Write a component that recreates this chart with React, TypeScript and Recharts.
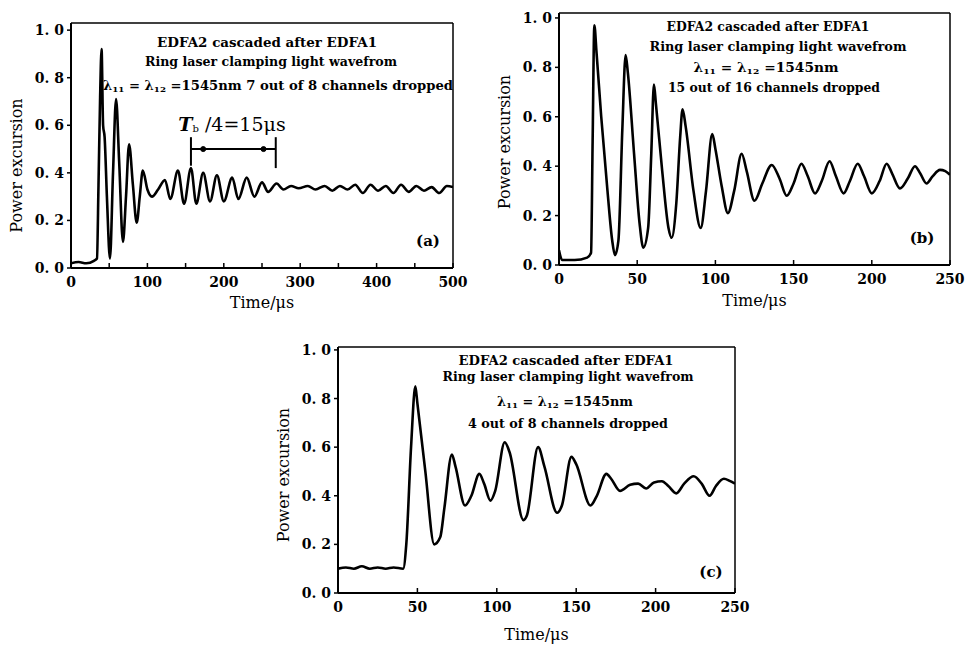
import { Line, LineChart, ReferenceDot, ReferenceLine, XAxis, YAxis } from "recharts";

// (a) 7 out of 8 channels dropped, 0..500 us
const timeA = [
  0, 10, 20, 30, 34, 36, 38, 40, 42, 44, 47, 51, 55, 59, 63, 68, 72, 76, 81, 86, 90, 94, 100, 106, 114, 123,
  130, 140, 148, 157, 164, 173, 182, 191, 200, 211, 219, 230, 240, 250, 258, 269, 278, 288, 298, 310, 320, 332,
  342, 352, 362, 372, 382, 392, 402, 412, 422, 432, 442, 452, 462, 472, 482, 492, 500,
];
const powerA = [
  0.02, 0.025, 0.02, 0.03, 0.04, 0.35, 0.7, 0.92, 0.6, 0.55, 0.3, 0.04, 0.4, 0.71, 0.45, 0.11, 0.3, 0.52, 0.35,
  0.19, 0.3, 0.41, 0.33, 0.3, 0.33, 0.37, 0.29, 0.41, 0.27, 0.42, 0.27, 0.4, 0.28, 0.39, 0.28, 0.38, 0.29, 0.38,
  0.3, 0.36, 0.32, 0.355, 0.33, 0.345, 0.335, 0.345, 0.33, 0.345, 0.325, 0.345, 0.33, 0.35, 0.315, 0.35, 0.325,
  0.345, 0.315, 0.35, 0.32, 0.345, 0.325, 0.34, 0.315, 0.345, 0.34,
];

// (b) 15 out of 16 channels dropped, 0..250 us
const timeB = [
  0, 2, 10, 18, 20.5, 21.5, 22.6, 24, 27, 31, 34, 35.8, 38, 40.5, 42.6, 44, 48, 51.5, 53.9, 57, 59, 60.7, 62, 66,
  70, 72, 75, 77.5, 79, 81, 86, 90.6, 94, 98, 100, 104, 108, 112, 116.8, 120, 125, 130, 136, 141, 145.6, 150, 155,
  159, 163.7, 168, 173, 177, 182, 186, 191, 195, 200, 205, 209.5, 213, 218, 223, 227.6, 231, 235, 239, 243.6, 247,
  250,
];
const powerB = [
  0.06, 0.02, 0.02, 0.03, 0.05, 0.5, 0.97, 0.86, 0.6, 0.3, 0.1, 0.04, 0.1, 0.55, 0.85, 0.78, 0.45, 0.17, 0.07,
  0.15, 0.45, 0.73, 0.65, 0.38, 0.15, 0.11, 0.25, 0.52, 0.63, 0.56, 0.3, 0.15, 0.3, 0.53, 0.47, 0.32, 0.21, 0.3,
  0.45, 0.38, 0.26, 0.33, 0.405, 0.35, 0.28, 0.33, 0.41, 0.36, 0.29, 0.34, 0.42, 0.36, 0.29, 0.34, 0.41, 0.36, 0.29,
  0.34, 0.41, 0.37, 0.31, 0.35, 0.4, 0.37, 0.33, 0.36, 0.385, 0.38, 0.365,
];

// (c) 4 out of 8 channels dropped, 0..250 us
const timeC = [
  0, 5, 10, 15, 20, 25, 30, 35, 41, 43, 46, 48.7, 50, 55, 60.6, 64.4, 67, 71.7, 74, 80, 84, 89, 92, 96, 99, 105,
  108, 116.8, 119, 126, 130, 138, 141, 147, 150, 159, 163, 169, 172, 177.6, 184, 189, 194, 199, 204, 208, 213, 218,
  224, 229, 234, 238, 243, 247, 250,
];
const powerC = [
  0.1, 0.105, 0.1, 0.11, 0.1, 0.105, 0.1, 0.105, 0.1, 0.2, 0.6, 0.85, 0.78, 0.5, 0.2, 0.23, 0.35, 0.57, 0.52, 0.36,
  0.4, 0.49, 0.45, 0.38, 0.42, 0.62, 0.58, 0.3, 0.32, 0.6, 0.52, 0.33, 0.36, 0.56, 0.53, 0.36, 0.4, 0.49, 0.47,
  0.42, 0.445, 0.45, 0.43, 0.455, 0.46, 0.44, 0.41, 0.45, 0.48, 0.45, 0.4, 0.44, 0.47, 0.46, 0.45,
];

const yTicks = [0, 0.2, 0.4, 0.6, 0.8, 1.0];
const xTicksA = [0, 50, 100, 150, 200, 250, 300, 350, 400, 450, 500];
const xTicksBC = [0, 50, 100, 150, 200, 250];

const SERIF = "'DejaVu Serif', 'Liberation Serif', serif";

const toRows = (t: number[], p: number[]) => t.map((v, i) => ({ t: v, p: p[i] }));

const fmtY = (v: number) => v.toFixed(1).replace(".", ". ");

function XTick(props: any) {
  const { x, y, payload, step } = props;
  const v = payload.value as number;
  return (
    <g>
      <line x1={x} x2={x} y1={y} y2={y - 5} stroke="#000" strokeWidth={1.5} />
      {v % step === 0 && (
        <text x={x} y={y + 14} textAnchor="middle" dominantBaseline="central" fontFamily={SERIF} fontWeight="bold" fontSize={14} fill="#000">
          {v}
        </text>
      )}
    </g>
  );
}

type PanelProps = {
  left: number;
  top: number;
  width: number;
  height: number;
  margin: { top: number; right: number; bottom: number; left: number };
  xMax: number;
  yMax: number;
  xTicks: number[];
  step: number;
  rows: { t: number; p: number }[];
  xTitleGap: number;
  yTitleShift: number;
  children?: any;
};

function Panel(props: PanelProps) {
  const { left, top, width, height, margin, xMax, yMax, xTicks, step, rows, xTitleGap, yTitleShift } = props;
  const axisLine = { stroke: "#000", strokeWidth: 2 };
  return (
    <div style={{ position: "absolute", left, top }}>
      <LineChart width={width} height={height} data={rows} margin={margin}>
        <XAxis
          dataKey="t"
          type="number"
          domain={[0, xMax]}
          ticks={xTicks}
          tick={(p: any) => <XTick {...p} step={step} />}
          tickLine={false}
          tickSize={0}
          tickMargin={0}
          axisLine={axisLine}
          height={45}
          allowDataOverflow
          label={(p: any) => {
            const vb = p.viewBox;
            return (
              <text x={vb.x + vb.width / 2} y={vb.y + xTitleGap} textAnchor="middle" dominantBaseline="central" fontFamily={SERIF} fontSize={16} fill="#000">
                Time/μs
              </text>
            );
          }}
        />
        <YAxis
          type="number"
          domain={[0, yMax]}
          ticks={yTicks}
          tickFormatter={fmtY}
          tick={{ fontFamily: SERIF, fontWeight: "bold", fontSize: 14, fill: "#000" }}
          tickSize={4}
          tickMargin={3}
          tickLine={{ stroke: "#000", strokeWidth: 1.5 }}
          axisLine={axisLine}
          width={70}
          allowDataOverflow
          label={(p: any) => {
            const vb = p.viewBox;
            const cx = vb.x + vb.width - 55;
            const cy = vb.y + vb.height / 2 + yTitleShift;
            return (
              <text x={cx} y={cy} transform={`rotate(-90 ${cx} ${cy})`} textAnchor="middle" dominantBaseline="central" fontFamily={SERIF} fontSize={16} fill="#000">
                Power excursion
              </text>
            );
          }}
        />
        {/* box frame: top and right edges */}
        <ReferenceLine y={yMax} stroke="#000" strokeWidth={1.5} />
        <ReferenceLine x={xMax} stroke="#000" strokeWidth={1.5} />
        <Line type="monotone" dataKey="p" stroke="#000" strokeWidth={2.6} dot={false} isAnimationActive={false} />
        {props.children}
      </LineChart>
    </div>
  );
}

function Note({ x, y, w, size = 12, children }: { x: number; y: number; w?: number; size?: number; children: any }) {
  return (
    <text
      x={x}
      y={y}
      textAnchor="middle"
      dominantBaseline="central"
      fontFamily={SERIF}
      fontWeight="bold"
      fontSize={size}
      fill="#000"
      textLength={w}
      lengthAdjust={w ? "spacingAndGlyphs" : undefined}
    >
      {children}
    </text>
  );
}

const Lambda = () => (
  <>
    λ<tspan fontSize={8} dy={3}>11</tspan>
    <tspan dy={-3}> = λ</tspan>
    <tspan fontSize={8} dy={3}>12</tspan>
    <tspan dy={-3}> =1545nm</tspan>
  </>
);

export default function App() {
  return (
    <div style={{ position: "absolute", left: 0, top: 0, width: 967, height: 645, background: "#fff" }}>
      <Panel
        left={0}
        top={0}
        width={470}
        height={320}
        margin={{ top: 23, right: 17, bottom: 7, left: 1 }}
        xMax={500}
        yMax={1.03}
        xTicks={xTicksA}
        step={100}
        rows={toRows(timeA, powerA)}
        xTitleGap={34}
        yTitleShift={20}
      >
        <ReferenceLine segment={[{ x: 157, y: 0.5 }, { x: 268, y: 0.5 }]} stroke="#000" strokeWidth={2} />
        <ReferenceLine segment={[{ x: 157, y: 0.43 }, { x: 157, y: 0.55 }]} stroke="#000" strokeWidth={2} />
        <ReferenceLine segment={[{ x: 268, y: 0.42 }, { x: 268, y: 0.55 }]} stroke="#000" strokeWidth={2} />
        <ReferenceDot x={173} y={0.5} r={2.5} fill="#000" stroke="#000" />
        <ReferenceDot x={252} y={0.5} r={2.5} fill="#000" stroke="#000" />
      </Panel>
      <Panel
        left={489}
        top={0}
        width={477}
        height={320}
        margin={{ top: 13, right: 16, bottom: 10, left: 0 }}
        xMax={250}
        yMax={1.02}
        xTicks={xTicksBC}
        step={50}
        rows={toRows(timeB, powerB)}
        xTitleGap={35}
        yTitleShift={3}
      />
      <Panel
        left={268}
        top={330}
        width={483}
        height={315}
        margin={{ top: 17, right: 16, bottom: 7, left: 0 }}
        xMax={250}
        yMax={1.012}
        xTicks={xTicksBC}
        step={50}
        rows={toRows(timeC, powerC)}
        xTitleGap={41}
        yTitleShift={5}
      />
      <svg width={967} height={645} style={{ position: "absolute", left: 0, top: 0, pointerEvents: "none" }}>
        <Note x={267} y={43} w={220}>EDFA2 cascaded after EDFA1</Note>
        <Note x={271} y={62} w={252}>Ring laser clamping light wavefrom</Note>
        <Note x={278} y={86} w={350}>
          <Lambda /> 7 out of 8 channels dropped
        </Note>
        <text x={232} y={124} textAnchor="middle" dominantBaseline="central" fontFamily={SERIF} fontSize={19} fill="#000">
          <tspan fontStyle="italic" fontWeight="bold">T</tspan>
          <tspan fontSize={10} dy={4}>b</tspan>
          <tspan dy={-4}> /4=15μs</tspan>
        </text>
        <Note x={428} y={241} size={15}>(a)</Note>

        <Note x={768} y={27} w={203}>EDFA2 cascaded after EDFA1</Note>
        <Note x={778} y={47} w={257}>Ring laser clamping light wavefrom</Note>
        <Note x={766} y={68} w={145}>
          <Lambda />
        </Note>
        <Note x={774} y={88} w={212}>15 out of 16 channels dropped</Note>
        <Note x={922} y={238} size={15}>(b)</Note>

        <Note x={566} y={361} w={215}>EDFA2 cascaded after EDFA1</Note>
        <Note x={568} y={377} w={251}>Ring laser clamping light wavefrom</Note>
        <Note x={565} y={402} w={136}>
          <Lambda />
        </Note>
        <Note x={568} y={424} w={200}>4  out of 8 channels dropped</Note>
        <Note x={711} y={572} size={15}>(c)</Note>
      </svg>
    </div>
  );
}
